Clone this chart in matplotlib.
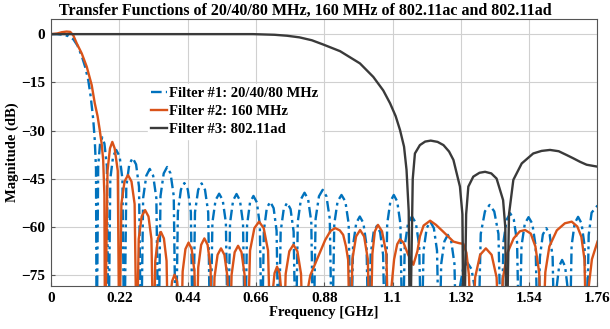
import matplotlib
matplotlib.use("Agg")
import matplotlib.pyplot as plt

plt.rcParams['font.family'] = ['Liberation Serif', 'DejaVu Serif']
plt.rcParams['font.weight'] = 'bold'

# Filter #1: 20/40/80 MHz  (frequency in GHz, magnitude in dB)
f1_f = [0.000, 0.020, 0.040, 0.055, 0.072, 0.085, 0.099, 0.110, 0.120, 0.128, 0.136, 0.141, 0.145, 0.147,
        0.152, 0.158, 0.165, 0.172, 0.180, 0.185,
        0.191, 0.200, 0.210, 0.221, 0.230, 0.236,
        0.2425, 0.252, 0.263, 0.274, 0.2835, 0.290,
        0.2967, 0.307, 0.318, 0.329, 0.3393, 0.346,
        0.3527, 0.363, 0.374, 0.385, 0.3953, 0.402,
        0.4086, 0.4185, 0.4295, 0.4405, 0.4504, 0.457,
        0.4637, 0.474, 0.485, 0.496, 0.5063, 0.513,
        0.5198, 0.530, 0.5415, 0.553, 0.5632, 0.570,
        0.5766, 0.5865, 0.5975, 0.6085, 0.6184, 0.625,
        0.6315, 0.641, 0.652, 0.663, 0.6725, 0.679,
        0.6855, 0.695, 0.706, 0.717, 0.7265, 0.733,
        0.7396, 0.7495, 0.7605, 0.7715, 0.7814, 0.788,
        0.7948, 0.805, 0.8165, 0.828, 0.8382, 0.845,
        0.8522, 0.863, 0.875, 0.887, 0.8978, 0.905,
        0.9123, 0.923, 0.9355, 0.948, 0.9587, 0.966,
        0.9728, 0.983, 0.9945, 1.006, 1.0162, 1.023,
        1.0294, 1.039, 1.0495, 1.060, 1.0696, 1.076,
        1.0827, 1.093, 1.104, 1.115, 1.1253, 1.132,
        1.1393, 1.150, 1.1625, 1.175, 1.1857, 1.193,
        1.1998, 1.210, 1.2215, 1.233, 1.2432, 1.250,
        1.2567, 1.267, 1.278, 1.289, 1.2993, 1.306,
        1.3143, 1.327, 1.3405, 1.354, 1.3667, 1.375,
        1.384, 1.3975, 1.4125, 1.4275, 1.441, 1.450,
        1.457, 1.4674, 1.479, 1.4906, 1.501, 1.508,
        1.5152, 1.526, 1.538, 1.550, 1.5608, 1.568,
        1.5745, 1.584, 1.595, 1.606, 1.6155, 1.622,
        1.6278, 1.6364, 1.646, 1.6556, 1.6642, 1.670,
        1.6766, 1.6865, 1.6975, 1.7085, 1.7184, 1.725,
        1.7316, 1.741, 1.760]
f1_db = [0.0, 0.0, -0.2, -0.6, -1.6, -3.5, -6.8, -10.2, -14.3, -19.5, -26.5, -33.0, -42.0, -100,
         -41.0, -34.0, -32.1, -34.0, -41.0, -100,
         -45.0, -38.0, -36.0, -38.0, -45.0, -100,
         -47.5, -40.5, -38.5, -40.5, -47.5, -100,
         -51.0, -44.0, -41.9, -44.0, -51.0, -100,
         -50.3, -43.3, -41.3, -43.3, -50.3, -100,
         -55.3, -48.3, -46.3, -48.3, -55.3, -100,
         -55.4, -48.4, -46.4, -48.4, -55.4, -100,
         -58.6, -51.6, -49.6, -51.6, -58.6, -100,
         -58.7, -51.7, -49.7, -51.7, -58.7, -100,
         -59.3, -52.3, -50.3, -52.3, -59.3, -100,
         -61.1, -54.1, -52.1, -54.1, -61.1, -100,
         -61.4, -54.4, -52.4, -54.4, -61.4, -100,
         -58.3, -51.3, -49.3, -51.3, -58.3, -100,
         -57.4, -50.4, -48.4, -50.4, -57.4, -100,
         -59.0, -52.0, -50.0, -52.0, -59.0, -100,
         -65.7, -58.7, -56.7, -58.7, -65.7, -100,
         -68.6, -61.6, -59.6, -61.6, -68.6, -100,
         -59.0, -52.0, -50.0, -52.0, -59.0, -100,
         -65.7, -58.7, -56.7, -58.7, -65.7, -100,
         -67.3, -60.3, -58.3, -60.3, -67.3, -100,
         -71.4, -64.4, -62.4, -64.4, -71.4, -100,
         -80.0, -73.0, -71.0, -73.0, -80.0, -100,
         -62.1, -55.1, -53.1, -55.1, -62.1, -100,
         -64.7, -57.7, -55.7, -57.7, -64.7, -100,
         -65.9, -58.9, -56.9, -58.9, -65.9, -100,
         -69.3, -62.3, -60.3, -62.3, -69.3, -100,
         -79.2, -72.2, -70.2, -72.2, -79.2, -100,
         -65.8, -58.8, -56.8, -58.8, -65.8, -100,
         -62.5, -55.5, -53.3]

# Filter #2: 160 MHz
f2_f = [0.000, 0.020, 0.035, 0.050, 0.062, 0.072, 0.083, 0.099, 0.115, 0.131, 0.141, 0.150, 0.157, 0.163, 0.168, 0.172, 0.174,
        0.182, 0.190, 0.1975, 0.205, 0.215, 0.220,
        0.2267, 0.2368, 0.248, 0.2592, 0.2693, 0.276,
        0.2825, 0.292, 0.303, 0.314, 0.3235, 0.330,
        0.3358, 0.3444, 0.354, 0.3636, 0.3722, 0.378,
        0.383, 0.390, 0.398, 0.406, 0.413, 0.418,
        0.424, 0.433, 0.443, 0.453, 0.462, 0.468,
        0.4742, 0.4836, 0.494, 0.5044, 0.5138, 0.520,
        0.5266, 0.5365, 0.5475, 0.5585, 0.5684, 0.575,
        0.5816, 0.5915, 0.6025, 0.6135, 0.6234, 0.632,
        0.641, 0.655, 0.670, 0.685, 0.699, 0.708,
        0.713, 0.720, 0.728, 0.736, 0.743, 0.748,
        0.7558, 0.7675, 0.7805, 0.7935, 0.8052, 0.813,
        0.822, 0.835, 0.856, 0.883, 0.900, 0.915, 0.930, 0.941, 0.950, 0.957, 0.963,
        0.9708, 0.9825, 0.9955, 1.0085, 1.0202, 1.028,
        1.035, 1.043, 1.053, 1.066, 1.080, 1.088,
        1.095, 1.105, 1.115, 1.124, 1.135, 1.150, 1.167, 1.180, 1.188, 1.200, 1.221, 1.240,
        1.263, 1.280, 1.296, 1.315, 1.328, 1.338, 1.346, 1.355,
        1.366, 1.382, 1.4005, 1.419, 1.435, 1.446,
        1.455, 1.470, 1.490, 1.510, 1.527, 1.545, 1.560, 1.572, 1.582,
        1.592, 1.605, 1.629, 1.655, 1.677, 1.695, 1.708, 1.718, 1.725,
        1.730, 1.742, 1.760]
f2_db = [0.0, 0.2, 0.6, 0.8, 0.7, -0.4, -2.9, -6.0, -10.1, -15.8, -21.5, -25.5, -29.8, -34.0, -39.0, -50.0, -100,
         -42.5, -35.5, -33.5, -35.5, -42.5, -100,
         -52.8, -45.8, -43.8, -45.8, -52.8, -100,
         -63.7, -56.7, -54.7, -56.7, -63.7, -100,
         -70.5, -63.5, -61.5, -63.5, -70.5, -100,
         -83.0, -76.8, -74.8, -76.8, -83.0, -100,
         -73.8, -66.8, -64.8, -66.8, -73.8, -100,
         -72.5, -65.5, -63.5, -65.5, -72.5, -100,
         -75.6, -68.6, -66.6, -68.6, -75.6, -100,
         -74.8, -67.8, -65.8, -67.8, -74.8, -100,
         -67.3, -60.3, -58.3, -60.3, -67.3, -100,
         -81.0, -74.3, -72.3, -74.3, -81.0, -100,
         -74.5, -67.5, -65.5, -67.5, -74.5, -100,
         -82.0, -75.0, -70.2, -64.0, -61.2, -60.3, -61.0, -62.4, -66.0, -70.2, -100,
         -69.9, -62.9, -60.9, -62.9, -69.9, -100,
         -68.3, -61.3, -59.3, -61.3, -68.3, -100,
         -80.0, -70.0, -65.3, -63.8, -64.8, -68.5, -71.7, -67.5, -62.9, -59.5, -58.0, -59.3,
         -61.4, -63.0, -64.5, -65.0, -65.2, -68.0, -75.0, -100,
         -75.6, -68.6, -66.6, -68.6, -75.6, -100,
         -76.0, -68.0, -63.5, -61.3, -60.9, -62.0, -66.0, -74.0, -100,
         -74.0, -66.0, -61.0, -58.8, -58.3, -59.8, -63.0, -70.0, -100,
         -80.0, -70.0, -64.5]

# Filter #3: 802.11ad
f3_f = [0.000, 0.300, 0.650, 0.720, 0.760, 0.800, 0.840, 0.876, 0.931, 0.995, 1.038, 1.070, 1.092, 1.110, 1.124, 1.137, 1.145, 1.152, 1.156,
        1.165, 1.172, 1.188, 1.205, 1.223, 1.245, 1.264, 1.282, 1.296, 1.317, 1.325, 1.330,
        1.337, 1.344, 1.360, 1.380, 1.398, 1.418, 1.435, 1.456, 1.463, 1.467,
        1.475, 1.489, 1.516, 1.553, 1.580, 1.607, 1.635, 1.661, 1.682, 1.704, 1.725, 1.760]
f3_db = [0.0, 0.0, 0.0, -0.2, -0.5, -1.0, -1.9, -3.2, -5.3, -9.1, -13.3, -17.5, -21.5, -25.5, -29.8, -35.0, -42.2, -55.0, -100,
         -45.0, -37.1, -34.5, -33.4, -33.1, -33.5, -34.5, -36.5, -39.1, -47.4, -56.0, -100,
         -56.0, -47.4, -44.3, -43.1, -42.8, -43.3, -44.9, -51.6, -60.0, -100,
         -56.0, -45.3, -40.2, -37.1, -36.3, -36.0, -36.4, -37.6, -38.6, -39.7, -40.6, -41.2]

xticks = [0, 0.22, 0.44, 0.66, 0.88, 1.1, 1.32, 1.54, 1.76]
xtick_labels = ["0", "0.22", "0.44", "0.66", "0.88", "1.1", "1.32", "1.54", "1.76"]
yticks = [0, -15, -30, -45, -60, -75]

fig = plt.figure(figsize=(6.10, 3.29), dpi=100)
ax = fig.add_axes([0.0836, 0.1307, 0.8959, 0.8115])

ax.plot(f1_f, f1_db, color='#0072BD', lw=1.7, linestyle=(0, (4.5, 1.8, 1.2, 1.8)),
        label='Filter #1: 20/40/80 MHz')
ax.plot(f2_f, f2_db, color='#D95319', lw=1.7, label='Filter #2: 160 MHz')
ax.plot(f3_f, f3_db, color='#3a3a3a', lw=1.7, label='Filter #3: 802.11ad')

ax.set_xlim(0, 1.76)
ax.set_ylim(-78.3, 4.7)
ax.set_xticks(xticks)
ax.set_xticklabels(xtick_labels)
ax.set_yticks(yticks)
ax.tick_params(direction='in', length=3, labelsize=11, pad=4, color='#555555')
ax.grid(True, color='#d0d0d0', lw=0.8)
ax.set_axisbelow(True)
for s in ax.spines.values():
    s.set_color('#555555')
    s.set_linewidth(0.8)

ax.set_title('Transfer Functions of 20/40/80 MHz, 160 MHz of 802.11ac and 802.11ad',
             fontsize=11.5, fontweight='bold', pad=3, x=0.465)
ax.set_xlabel('Frequency [GHz]', fontsize=10.5, fontweight='bold', labelpad=1)
ax.set_ylabel('Magnitude (dB)', fontsize=10.5, fontweight='bold', labelpad=2)

leg = ax.legend(loc='upper left', bbox_to_anchor=(0.165, 0.785), fontsize=10.5,
                handlelength=1.05, handletextpad=0.15, labelspacing=0.35,
                frameon=True, fancybox=False, framealpha=1, edgecolor='white',
                borderpad=0.2)

fig.savefig('out.png', dpi=100)
